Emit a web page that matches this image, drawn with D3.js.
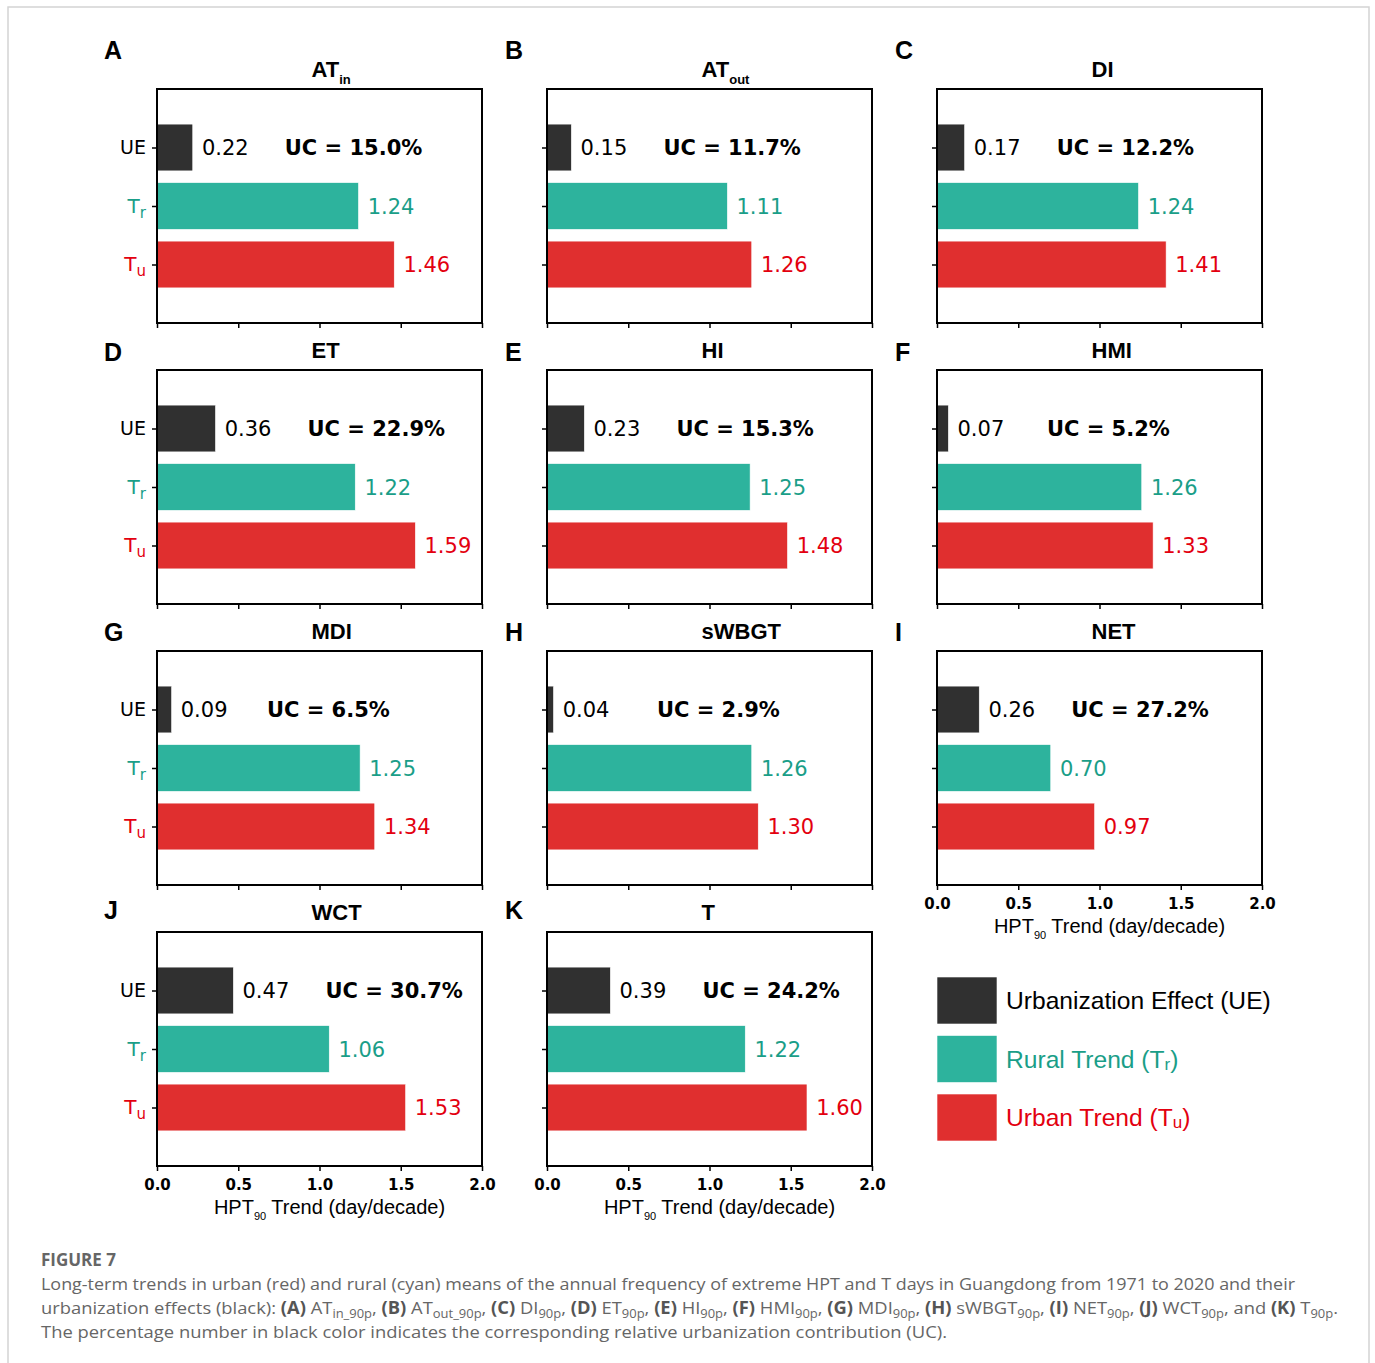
<!DOCTYPE html>
<html>
<head>
<meta charset="utf-8">
<script src="https://cdn.jsdelivr.net/npm/d3@7"></script>
<style>
  html, body { margin: 0; padding: 0; background: #fff; }
  svg { display: block; }
</style>
</head>
<body>
<svg id="fig" width="1375" height="1363"></svg>
<script>
// ---- data ----
const categories = ["UE", "Tr", "Tu"];
const panelLetters = ["A", "B", "C", "D", "E", "F", "G", "H", "I", "J", "K"];
const titleMain = ["AT", "AT", "DI", "ET", "HI", "HMI", "MDI", "sWBGT", "NET", "WCT", "T"];
const titleSub = ["in", "out", "", "", "", "", "", "", "", "", ""];
const ueValues = [0.22, 0.15, 0.17, 0.36, 0.23, 0.07, 0.09, 0.04, 0.26, 0.47, 0.39];
const ruralValues = [1.24, 1.11, 1.24, 1.22, 1.25, 1.26, 1.25, 1.26, 0.70, 1.06, 1.22];
const urbanValues = [1.46, 1.26, 1.41, 1.59, 1.48, 1.33, 1.34, 1.30, 0.97, 1.53, 1.60];
const ucPercent = [15.0, 11.7, 12.2, 22.9, 15.3, 5.2, 6.5, 2.9, 27.2, 30.7, 24.2];
const xTicks = [0.0, 0.5, 1.0, 1.5, 2.0];
const legendLabels = [
  { main: "Urbanization Effect (UE)", sub: "", tail: "" },
  { main: "Rural Trend (T", sub: "r", tail: ")" },
  { main: "Urban Trend (T", sub: "u", tail: ")" }
];

// ---- style ----
const barColors = ["#303030", "#2db39d", "#e02f2f"];
const textColors = ["#000000", "#1a9e88", "#e3000f"];
const mplFont = "'DejaVu Sans', sans-serif";
const arialFont = "'Liberation Sans', Arial, sans-serif";

// ---- layout ----
const colX = [157, 547, 937];
const rowY = [89, 370, 651, 932];
const plotW = 325, plotH = 234;
const letterX = [104, 505, 895];
const letterY = [59, 361, 641, 919];

const svg = d3.select("#fig");

// page frame
svg.append("path")
  .attr("d", "M8,1363 V7 H1369 V1363")
  .attr("fill", "none")
  .attr("stroke", "#d4d4d4")
  .attr("stroke-width", 1.5);

const x = d3.scaleLinear().domain([0, 2]).range([0, plotW]);
const y = d3.scaleLinear().domain([-1, 3]).range([0, plotH]);
const barH = y(0.4) - y(-0.4);

// panels that carry x tick labels and the axis title
const labelledX = new Set([8, 9, 10]);

panelLetters.forEach((letter, i) => {
  const col = i % 3, row = Math.floor(i / 3);
  const g = svg.append("g").attr("transform", `translate(${colX[col]},${rowY[row]})`);
  const vals = [ueValues[i], ruralValues[i], urbanValues[i]];

  // bars
  g.selectAll("rect.bar").data(vals).join("rect")
    .attr("class", "bar")
    .attr("x", x(0))
    .attr("y", (d, k) => y(k - 0.4))
    .attr("width", d => x(d) - x(0))
    .attr("height", barH)
    .attr("fill", (d, k) => barColors[k])
    .attr("stroke", "#ffffff")
    .attr("stroke-width", 0.6);

  // value labels
  g.selectAll("text.val").data(vals).join("text")
    .attr("class", "val")
    .attr("x", d => x(d + 0.05) + 1)
    .attr("y", (d, k) => y(k))
    .attr("dy", "0.36em")
    .attr("font-family", mplFont)
    .attr("font-size", 21)
    .attr("fill", (d, k) => textColors[k])
    .text(d => d.toFixed(2));

  // urbanization contribution
  g.append("text")
    .attr("x", x(Math.max(ueValues[i], 0.11)) + 92)
    .attr("y", y(0))
    .attr("dy", "0.36em")
    .attr("font-family", mplFont)
    .attr("font-weight", "bold")
    .attr("font-size", 21)
    .attr("fill", "#000")
    .text(`UC = ${ucPercent[i].toFixed(1)}%`);

  // x axis
  const xAxis = d3.axisBottom(x).tickValues(xTicks).tickSize(5).tickPadding(8)
    .tickFormat(labelledX.has(i) ? d3.format(".1f") : () => "");
  const gx = g.append("g").attr("transform", `translate(0,${plotH})`).call(xAxis);
  gx.select(".domain").remove();
  gx.selectAll(".tick line").attr("stroke", "#000").attr("stroke-width", 1.5);
  gx.selectAll(".tick text")
    .attr("font-family", mplFont).attr("font-weight", "bold")
    .attr("font-size", 15).attr("fill", "#000");

  // y axis
  const yAxis = d3.axisLeft(y).tickValues([0, 1, 2]).tickSize(5).tickFormat(() => "");
  const gy = g.append("g").call(yAxis);
  gy.select(".domain").remove();
  gy.selectAll(".tick line").attr("stroke", "#000").attr("stroke-width", 1.5);

  if (col === 0) {
    categories.forEach((c, k) => {
      const t = g.append("text")
        .attr("x", -11)
        .attr("y", y(k))
        .attr("dy", "0.36em")
        .attr("text-anchor", "end")
        .attr("font-family", mplFont)
        .attr("font-size", 19)
        .attr("fill", textColors[k]);
      if (c === "UE") {
        t.text("UE");
      } else {
        t.append("tspan").attr("font-size", 20).text("T");
        t.append("tspan").attr("font-size", 15).attr("dy", 5).text(c.slice(1));
      }
    });
  }

  // frame
  g.append("rect")
    .attr("width", plotW).attr("height", plotH)
    .attr("fill", "none").attr("stroke", "#000").attr("stroke-width", 2);

  // title
  const tt = g.append("text")
    .attr("x", plotW / 2 - 8)
    .attr("y", -12)
    .attr("font-family", arialFont)
    .attr("font-weight", "bold")
    .attr("font-size", 22)
    .attr("fill", "#000");
  tt.append("tspan").text(titleMain[i]);
  if (titleSub[i]) tt.append("tspan").attr("font-size", 13).attr("dy", 7).text(titleSub[i]);

  // x axis title
  if (labelledX.has(i)) {
    const at = g.append("text")
      .attr("x", plotW / 2 + 10)
      .attr("y", plotH + 48)
      .attr("text-anchor", "middle")
      .attr("font-family", arialFont)
      .attr("font-size", 20)
      .attr("fill", "#000");
    at.append("tspan").text("HPT");
    at.append("tspan").attr("font-size", 11).attr("dy", 6).text("90");
    at.append("tspan").attr("dy", -6).text(" Trend (day/decade)");
  }

  // panel letter
  svg.append("text")
    .attr("x", letterX[col])
    .attr("y", letterY[row])
    .attr("font-family", arialFont)
    .attr("font-weight", "bold")
    .attr("font-size", 25)
    .attr("fill", "#000")
    .text(letter);
});

// ---- legend ----
const legend = svg.append("g").attr("transform", "translate(937,977)");
legendLabels.forEach((l, k) => {
  const yy = k * 58.5;
  legend.append("rect")
    .attr("x", 0).attr("y", yy).attr("width", 60).attr("height", 47)
    .attr("fill", barColors[k]).attr("stroke", "#ffffff").attr("stroke-width", 0.6);
  const t = legend.append("text")
    .attr("x", 69).attr("y", yy + 23.5).attr("dy", "0.36em")
    .attr("font-family", arialFont).attr("font-size", 24.6)
    .attr("fill", textColors[k]);
  t.append("tspan").text(l.main);
  if (l.sub) {
    t.append("tspan").attr("font-size", 17).attr("dy", 2).text(l.sub);
    t.append("tspan").attr("dy", -2).text(l.tail);
  }
});

// ---- caption ----
const capFont = "'Open Sans', 'Lato', sans-serif";
svg.append("text")
  .attr("x", 41).attr("y", 1266)
  .attr("font-family", capFont).attr("font-weight", "bold")
  .attr("font-size", 17).attr("fill", "#666")
  .text("FIGURE 7");

svg.append("text")
  .attr("x", 41).attr("y", 1290)
  .attr("font-family", capFont).attr("font-size", 17).attr("fill", "#666")
  .attr("textLength", 1254).attr("lengthAdjust", "spacingAndGlyphs")
  .text("Long-term trends in urban (red) and rural (cyan) means of the annual frequency of extreme HPT and T days in Guangdong from 1971 to 2020 and their");

const line2 = svg.append("text")
  .attr("x", 41).attr("y", 1314)
  .attr("font-family", capFont).attr("font-size", 17).attr("fill", "#666")
  .attr("textLength", 1297).attr("lengthAdjust", "spacingAndGlyphs");
const parts = [
  ["urbanization effects (black): ", ""],
  ["(A)", "b"], [" AT", ""], ["in_90p", "s"], [", ", ""],
  ["(B)", "b"], [" AT", ""], ["out_90p", "s"], [", ", ""],
  ["(C)", "b"], [" DI", ""], ["90p", "s"], [", ", ""],
  ["(D)", "b"], [" ET", ""], ["90p", "s"], [", ", ""],
  ["(E)", "b"], [" HI", ""], ["90p", "s"], [", ", ""],
  ["(F)", "b"], [" HMI", ""], ["90p", "s"], [", ", ""],
  ["(G)", "b"], [" MDI", ""], ["90p", "s"], [", ", ""],
  ["(H)", "b"], [" sWBGT", ""], ["90p", "s"], [", ", ""],
  ["(I)", "b"], [" NET", ""], ["90p", "s"], [", ", ""],
  ["(J)", "b"], [" WCT", ""], ["90p", "s"], [", and ", ""],
  ["(K)", "b"], [" T", ""], ["90p", "s"], [".", ""]
];
let lowered = false;
parts.forEach(([txt, kind]) => {
  const ts = line2.append("tspan").text(txt);
  if (kind === "b") ts.attr("font-weight", "bold").attr("fill", "#555");
  if (kind === "s") { ts.attr("font-size", 12).attr("dy", 4); lowered = true; }
  else if (lowered) { ts.attr("dy", -4); lowered = false; }
});

svg.append("text")
  .attr("x", 41).attr("y", 1338)
  .attr("font-family", capFont).attr("font-size", 17).attr("fill", "#666")
  .attr("textLength", 906).attr("lengthAdjust", "spacingAndGlyphs")
  .text("The percentage number in black color indicates the corresponding relative urbanization contribution (UC).");
</script>
</body>
</html>
